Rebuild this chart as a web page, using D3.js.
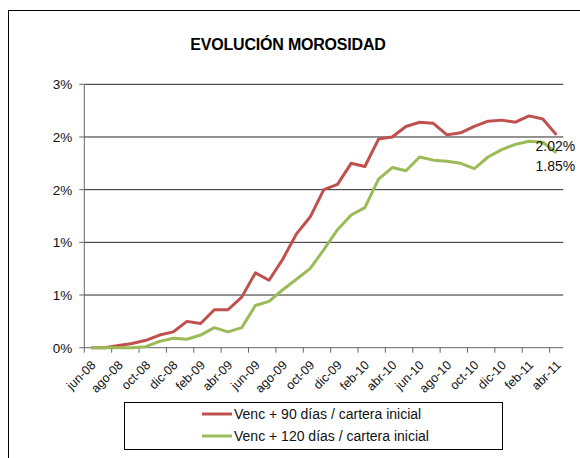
<!DOCTYPE html>
<html>
<head>
<meta charset="utf-8">
<script src="https://cdn.jsdelivr.net/npm/d3@7"></script>
<style>
  body { margin: 0; background: #fff; }
  svg { display: block; font-family: "Liberation Sans", Arial, sans-serif; }
</style>
</head>
<body>
<div id="chart"></div>
<script>
var width = 580,
    height = 458;

// data (percent)
var categories = ["jun-08","jul-08","ago-08","sep-08","oct-08","nov-08","dic-08",
  "ene-09","feb-09","mar-09","abr-09","may-09","jun-09","jul-09","ago-09","sep-09","oct-09","nov-09","dic-09",
  "ene-10","feb-10","mar-10","abr-10","may-10","jun-10","jul-10","ago-10","sep-10","oct-10","nov-10","dic-10",
  "ene-11","feb-11","mar-11","abr-11"];

var venc90 = [0.00, 0.00, 0.02, 0.04, 0.07, 0.12, 0.15, 0.25, 0.23, 0.36, 0.36, 0.48, 0.71, 0.64, 0.84, 1.08, 1.24, 1.50,
  1.55, 1.75, 1.72, 1.98, 2.00, 2.10, 2.14, 2.13, 2.02, 2.04, 2.10, 2.15, 2.16, 2.14, 2.20, 2.17, 2.02];
var venc120 = [0.00, 0.00, 0.00, 0.00, 0.01, 0.06, 0.09, 0.08, 0.12, 0.19, 0.15, 0.19, 0.40, 0.44, 0.55, 0.65, 0.75, 0.93,
  1.12, 1.26, 1.33, 1.60, 1.71, 1.68, 1.81, 1.78, 1.77, 1.75, 1.70, 1.81, 1.88, 1.93, 1.96, 1.95, 1.85];

var seriesNames = ["Venc + 90 días / cartera inicial", "Venc + 120 días / cartera inicial"];
var yTicks = [0, 0.5, 1, 1.5, 2, 2.5];
var yTickLabels = ["0%", "1%", "1%", "2%", "2%", "3%"];
var endLabels = ["2.02%", "1.85%"];

var series = [
  {name: seriesNames[0], values: venc90, color: "#C0504D"},
  {name: seriesNames[1], values: venc120, color: "#9BBB59"}
];

var plotLeft = 84.3, plotRight = 563.3, plotTop = 84.3, plotBottom = 347.7;

var svg = d3.select("#chart").append("svg")
    .attr("width", width)
    .attr("height", height);

// outer chart border
svg.append("rect")
    .attr("x", 8.5).attr("y", 10.5)
    .attr("width", width).attr("height", height)
    .style("fill", "none")
    .style("stroke", "#000")
    .style("stroke-width", 1);

svg.append("text")
    .attr("x", 288).attr("y", 50)
    .attr("text-anchor", "middle")
    .style("font-size", "16px")
    .style("font-weight", "bold")
    .style("letter-spacing", "-0.2px")
    .text("EVOLUCIÓN MOROSIDAD");

var x = d3.scaleBand().domain(categories).range([plotLeft, plotRight]);
var y = d3.scaleLinear().domain([0, 2.5]).range([plotBottom, plotTop]);
var bw = x.bandwidth();

// gridlines
svg.selectAll(".grid")
  .data(yTicks.slice(1))
  .enter().append("line")
    .attr("x1", plotLeft).attr("x2", plotRight)
    .attr("y1", function(d){ return y(d); })
    .attr("y2", function(d){ return y(d); })
    .style("stroke", "#2a2a2a")
    .style("stroke-width", 1);

// y axis
svg.append("line")
    .attr("x1", plotLeft).attr("x2", plotLeft)
    .attr("y1", plotTop).attr("y2", plotBottom)
    .style("stroke", "#666");
svg.selectAll(".ytick")
  .data(yTicks)
  .enter().append("line")
    .attr("x1", plotLeft - 5).attr("x2", plotLeft)
    .attr("y1", function(d){ return y(d); })
    .attr("y2", function(d){ return y(d); })
    .style("stroke", "#666");
svg.selectAll(".ylab")
  .data(yTicks)
  .enter().append("text")
    .attr("x", plotLeft - 12)
    .attr("y", function(d){ return y(d); })
    .attr("dy", "0.36em")
    .attr("text-anchor", "end")
    .style("font-size", "13.5px")
    .style("fill", "#111")
    .text(function(d, i){ return yTickLabels[i]; });

// x axis
svg.append("line")
    .attr("x1", plotLeft).attr("x2", plotRight)
    .attr("y1", plotBottom).attr("y2", plotBottom)
    .style("stroke", "#666");

var shown = categories.filter(function(c, i){ return i % 2 === 0; });

svg.selectAll(".xtick")
  .data(shown)
  .enter().append("line")
    .attr("x1", function(d){ return x(d); })
    .attr("x2", function(d){ return x(d); })
    .attr("y1", plotBottom).attr("y2", plotBottom + 5)
    .style("stroke", "#666");

svg.selectAll(".xlab")
  .data(shown)
  .enter().append("text")
    .attr("transform", function(d){
      return "translate(" + (x(d) + bw / 2 + 2) + "," + (plotBottom + 15) + ") rotate(-45)";
    })
    .attr("dy", "0.36em")
    .attr("text-anchor", "end")
    .style("font-size", "12.5px")
    .style("fill", "#111")
    .text(function(d){ return d; });

// lines
var line = d3.line()
    .x(function(d, i){ return x(categories[i]) + bw / 2; })
    .y(function(d){ return y(d); });

svg.selectAll(".series")
  .data(series)
  .enter().append("path")
    .attr("d", function(s){ return line(s.values); })
    .style("fill", "none")
    .style("stroke", function(s){ return s.color; })
    .style("stroke-width", 3)
    .style("stroke-linejoin", "round");

// end labels
var lastCat = categories[categories.length - 1];
var labelOffsets = [16, 18];
series.forEach(function(s, i){
  svg.append("text")
    .attr("x", x(lastCat) + bw / 2 - 21)
    .attr("y", y(s.values[s.values.length - 1]) + labelOffsets[i])
    .style("font-size", "14px")
    .style("fill", "#111")
    .text(endLabels[i]);
});

// legend
svg.append("rect")
    .attr("x", 124.5).attr("y", 402.5)
    .attr("width", 378).attr("height", 47)
    .style("fill", "#fff")
    .style("stroke", "#000");

var legend = svg.selectAll(".legend")
  .data(series)
  .enter().append("g")
    .attr("transform", function(s, i){ return "translate(202," + (414 + i * 22) + ")"; });

legend.append("line")
    .attr("x1", 0).attr("x2", 30)
    .style("stroke", function(s){ return s.color; })
    .style("stroke-width", 3);

legend.append("text")
    .attr("x", 32)
    .attr("dy", "0.36em")
    .style("font-size", "14px")
    .style("fill", "#111")
    .text(function(s){ return s.name; });
</script>
</body>
</html>
